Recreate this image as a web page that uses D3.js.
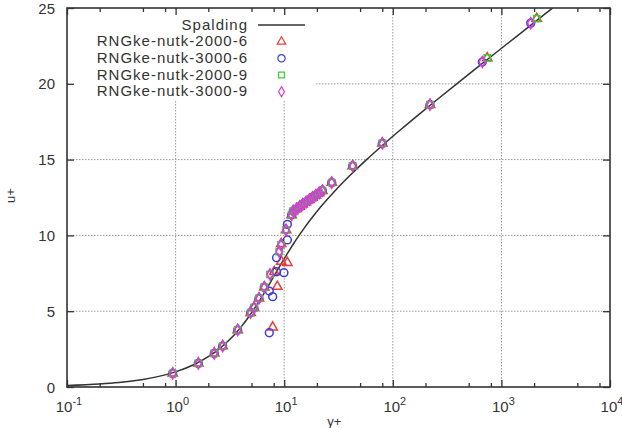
<!DOCTYPE html>
<html>
<head>
<meta charset="utf-8">
<script src="https://cdn.jsdelivr.net/npm/d3@7"></script>
<style>
  body { margin: 0; background: #fff; }
  text { font-family: "Liberation Sans", Arial, sans-serif; fill: #333; }
</style>
</head>
<body>
<div id="chart"></div>
<script>
// Spalding law of the wall
var spaldingYplus = [0.1, 0.2, 0.3, 0.5, 0.7, 1.0, 1.5, 2.0, 2.51, 3.01, 3.53, 4.05, 4.58, 5.12, 5.69, 6.29, 6.92, 7.60, 8.34, 9.16, 10.08, 11.12, 12.31, 13.71, 15.35, 17.29, 22.40, 29.85, 40.89, 57.37, 82.10, 119.3, 175.5, 260.1, 387.8, 580.6, 871.5, 1310, 1970, 2966];
var spaldingUplus = [0.1, 0.2, 0.3, 0.5, 0.7, 1.0, 1.5, 2.0, 2.5, 3.0, 3.5, 4.0, 4.5, 5.0, 5.5, 6.0, 6.5, 7.0, 7.5, 8.0, 8.5, 9.0, 9.5, 10, 10.5, 11, 12, 13, 14, 15, 16, 17, 18, 19, 20, 21, 22, 23, 24, 25];

// RNGke-nutk-2000-6
var rng2000_6Yplus = [0.94, 1.62, 2.27, 2.71, 3.73, 4.91, 5.27, 5.86, 6.56, 7.83, 8.64, 8.1, 9.4, 10.7, 9.4, 10.4, 11.7, 12.1, 13.0, 13.9, 14.8, 15.9, 17.1, 18.2, 19.6, 21.0, 22.5, 27.4, 42.7, 80.1, 220, 741, 2113];
var rng2000_6Uplus = [0.90, 1.56, 2.22, 2.70, 3.76, 4.90, 5.23, 5.85, 6.58, 3.94, 6.62, 7.6, 8.27, 8.2, 9.45, 10.36, 11.35, 11.6, 11.75, 11.9, 12.05, 12.2, 12.35, 12.5, 12.65, 12.8, 12.95, 13.48, 14.58, 16.07, 18.62, 21.7, 24.3];

// RNGke-nutk-3000-6
var rng3000_6Yplus = [0.94, 1.62, 2.27, 2.71, 3.73, 4.91, 5.27, 5.86, 6.56, 7.29, 7.83, 7.29, 8.5, 9.95, 8.5, 10.7, 10.7, 11.7, 12.1, 13.0, 13.9, 14.8, 15.9, 17.1, 18.2, 19.6, 21.0, 22.5, 27.4, 42.7, 80.1, 220, 667, 1862];
var rng3000_6Uplus = [0.90, 1.56, 2.22, 2.70, 3.76, 4.90, 5.23, 5.85, 6.58, 3.58, 5.96, 6.33, 7.6, 7.54, 8.53, 9.70, 10.73, 11.35, 11.6, 11.75, 11.9, 12.05, 12.2, 12.35, 12.5, 12.65, 12.8, 12.95, 13.48, 14.58, 16.07, 18.62, 21.44, 24.0];

// RNGke-nutk-2000-9
var rng2000_9Yplus = [0.94, 1.62, 2.27, 2.71, 3.73, 4.91, 5.27, 5.86, 6.56, 7.40, 9.0, 9.35, 10.4, 11.7, 12.1, 13.0, 13.9, 14.8, 15.9, 17.1, 18.2, 19.6, 21.0, 22.5, 27.4, 42.7, 80.1, 220, 741, 2113];
var rng2000_9Uplus = [0.90, 1.56, 2.22, 2.70, 3.76, 4.90, 5.23, 5.85, 6.58, 7.43, 8.93, 9.37, 10.36, 11.35, 11.6, 11.75, 11.9, 12.05, 12.2, 12.35, 12.5, 12.65, 12.8, 12.95, 13.48, 14.58, 16.07, 18.62, 21.7, 24.3];

// RNGke-nutk-3000-9
var rng3000_9Yplus = [0.94, 1.62, 2.27, 2.71, 3.73, 4.91, 5.27, 5.86, 6.56, 7.40, 9.0, 9.35, 10.4, 11.7, 12.1, 13.0, 13.9, 14.8, 15.9, 17.1, 18.2, 19.6, 21.0, 22.5, 27.4, 42.7, 80.1, 220, 667, 1862];
var rng3000_9Uplus = [0.90, 1.56, 2.22, 2.70, 3.76, 4.90, 5.23, 5.85, 6.58, 7.43, 8.93, 9.37, 10.36, 11.35, 11.6, 11.75, 11.9, 12.05, 12.2, 12.35, 12.5, 12.65, 12.8, 12.95, 13.48, 14.58, 16.07, 18.62, 21.44, 24.0];

var seriesNames = ["RNGke-nutk-2000-6", "RNGke-nutk-3000-6", "RNGke-nutk-2000-9", "RNGke-nutk-3000-9"];
var xTickValues = [0.1, 1, 10, 100, 1000, 10000];
var xTickExps = ["-1", "0", "1", "2", "3", "4"];
var yTickValues = [0, 5, 10, 15, 20, 25];

(function () {
    var width = 622, height = 428;
    var margin = { top: 8, right: 12, bottom: 41, left: 67 };
    var w = width - margin.left - margin.right,
        h = height - margin.top - margin.bottom;

    var svg = d3.select('#chart')
                .append('svg')
                .attr('width', width)
                .attr('height', height)
                .append('g')
                .attr('transform', 'translate(' + margin.left + ',' + margin.top + ')');

    var x = d3.scaleLog().domain([0.1, 10000]).range([0, w]);
    var y = d3.scaleLinear().domain([0, 25]).range([h, 0]);

    var colors = ["#e53d3d", "#3c3cd6", "#38cf38", "#d93cd9"];
    var shapes = [d3.symbolTriangle, d3.symbolCircle, d3.symbolSquare, d3.symbolDiamond];
    var sizes = [38, 48, 40, 36];

    var series = [
        d3.zip(rng2000_6Yplus, rng2000_6Uplus),
        d3.zip(rng3000_6Yplus, rng3000_6Uplus),
        d3.zip(rng2000_9Yplus, rng2000_9Uplus),
        d3.zip(rng3000_9Yplus, rng3000_9Uplus)
    ];

    // grid
    var grid = svg.append('g').attr('class', 'grid');
    grid.selectAll('line.gx')
        .data(xTickValues.slice(1, -1))
        .enter().append('line')
        .attr('x1', function(d) { return x(d); })
        .attr('x2', function(d) { return x(d); })
        .attr('y1', 0).attr('y2', h);
    grid.selectAll('line.gy')
        .data(yTickValues.slice(1, -1))
        .enter().append('line')
        .attr('x1', 0).attr('x2', w)
        .attr('y1', function(d) { return y(d); })
        .attr('y2', function(d) { return y(d); });
    grid.selectAll('line')
        .style('stroke', '#9a9a9a')
        .style('stroke-width', 1)
        .style('stroke-dasharray', '1.5,1.5');

    // legend area hides the grid behind it
    svg.append('rect')
        .attr('x', 1).attr('y', 1)
        .attr('width', 247).attr('height', 92)
        .style('fill', '#fff');

    // minor/major ticks
    var minorX = [];
    for (var p = -1; p < 4; p++) {
        [2, 5, 8].forEach(function(m) { minorX.push(m * Math.pow(10, p)); });
    }

    function tickStyle(g) {
        g.select('.domain').remove();
        g.selectAll('line').style('stroke', '#333').style('stroke-width', 1.3);
        g.selectAll('text').remove();
    }

    svg.append('g').attr('transform', 'translate(0,' + h + ')')
        .call(d3.axisBottom(x).tickValues(xTickValues).tickSize(-7)).call(tickStyle);
    svg.append('g').attr('transform', 'translate(0,' + h + ')')
        .call(d3.axisBottom(x).tickValues(minorX).tickSize(-4)).call(tickStyle);
    svg.append('g')
        .call(d3.axisTop(x).tickValues(xTickValues).tickSize(-7)).call(tickStyle);
    svg.append('g')
        .call(d3.axisTop(x).tickValues(minorX).tickSize(-4)).call(tickStyle);
    svg.append('g')
        .call(d3.axisLeft(y).tickValues(yTickValues).tickSize(-7)).call(tickStyle);
    svg.append('g').attr('transform', 'translate(' + w + ',0)')
        .call(d3.axisRight(y).tickValues(yTickValues).tickSize(-7)).call(tickStyle);

    // tick labels
    svg.selectAll('text.ylab')
        .data(yTickValues)
        .enter().append('text')
        .attr('x', -12)
        .attr('y', function(d) { return y(d) + 5.5; })
        .style('text-anchor', 'end')
        .style('font-size', '15px')
        .text(function(d) { return d; });

    var xl = svg.selectAll('text.xlab')
        .data(xTickValues)
        .enter().append('text')
        .attr('x', function(d) { return x(d) + 2; })
        .attr('y', h + 25)
        .style('text-anchor', 'middle')
        .style('font-size', '15px');
    xl.append('tspan').text('10');
    xl.append('tspan')
        .attr('dy', -7)
        .style('font-size', '11px')
        .text(function(d, i) { return xTickExps[i]; });

    // axis titles
    svg.append('text')
        .attr('transform', 'translate(' + (-52) + ',' + (h / 2 - 2) + ') rotate(-90)')
        .style('text-anchor', 'middle')
        .style('font-size', '13px')
        .text('u+');
    svg.append('text')
        .attr('x', x(10) + 50)
        .attr('y', h + 39)
        .style('text-anchor', 'middle')
        .style('font-size', '13px')
        .text('y+');

    // Spalding curve
    svg.append('defs').append('clipPath').attr('id', 'clip')
        .append('rect').attr('width', w).attr('height', h);

    var line = d3.line()
        .x(function(d) { return x(d[0]); })
        .y(function(d) { return y(d[1]); })
        .curve(d3.curveMonotoneX);

    svg.append('path')
        .datum(d3.zip(spaldingYplus, spaldingUplus))
        .attr('clip-path', 'url(#clip)')
        .attr('d', line)
        .style('fill', 'none')
        .style('stroke', '#333')
        .style('stroke-width', 1.5);

    // data points
    series.forEach(function(data, i) {
        svg.append('g').selectAll('path')
            .data(data)
            .enter().append('path')
            .attr('transform', function(d) { return 'translate(' + x(d[0]) + ',' + y(d[1]) + ')'; })
            .attr('d', d3.symbol().type(shapes[i]).size(sizes[i]))
            .style('fill', 'none')
            .style('stroke', colors[i])
            .style('stroke-width', 1.5);
    });

    // frame
    svg.append('rect')
        .attr('width', w).attr('height', h)
        .style('fill', 'none')
        .style('stroke', '#333')
        .style('stroke-width', 1.6);

    // legend
    var legend = svg.append('g').attr('class', 'legend');
    var rowY = [17, 33.7, 50.3, 67, 83.7];
    legend.append('text')
        .attr('x', 181).attr('y', rowY[0] + 4.5)
        .style('text-anchor', 'end')
        .style('font-size', '15px')
        .style('letter-spacing', '1px')
        .text('Spalding');
    legend.append('line')
        .attr('x1', 191).attr('x2', 238)
        .attr('y1', rowY[0]).attr('y2', rowY[0])
        .style('stroke', '#333').style('stroke-width', 1.4);

    seriesNames.forEach(function(name, i) {
        legend.append('text')
            .attr('x', 181).attr('y', rowY[i + 1] + 4.5)
            .style('text-anchor', 'end')
            .style('font-size', '15px')
            .style('letter-spacing', '1px')
            .text(name);
        legend.append('path')
            .attr('transform', 'translate(' + 214.5 + ',' + rowY[i + 1] + ')')
            .attr('d', d3.symbol().type(shapes[i]).size(sizes[i] - 6))
            .style('fill', 'none')
            .style('stroke', colors[i])
            .style('stroke-width', 1.2);
    });
})();
</script>
</body>
</html>
